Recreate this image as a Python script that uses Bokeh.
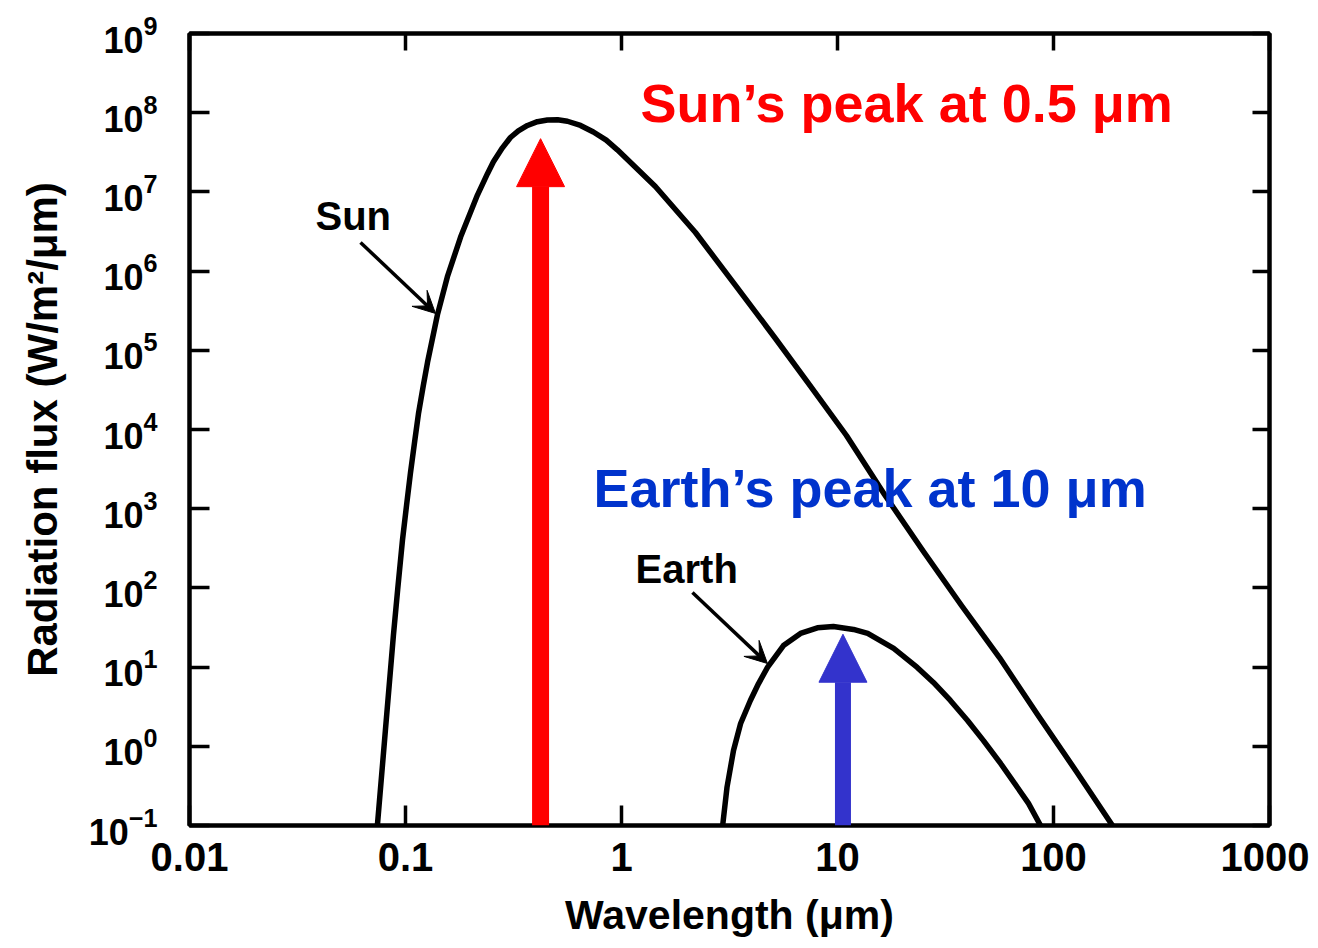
from bokeh.plotting import figure
from bokeh.models import (LogAxis, FixedTicker, CustomJSTickFormatter, LogTickFormatter,
                          Arrow, NormalHead, VeeHead, Label)
from bokeh.embed import file_html
from bokeh.resources import INLINE

# ---------------- data ----------------
sun_wavelength = [0.0741, 0.0807, 0.0879, 0.0920, 0.0968, 0.1012, 0.1054, 0.1104,
                  0.1148, 0.1208, 0.1265, 0.1406, 0.1563, 0.1799, 0.2153, 0.2399,
                  0.2553, 0.281, 0.306, 0.333, 0.367, 0.408, 0.454, 0.506, 0.562,
                  0.646, 0.741, 0.85, 0.957, 1.435, 2.20, 3.37, 5.16, 7.35, 11.0,
                  16.5, 25.0, 37.5, 56.2, 84.3, 127.6, 187.5]
sun_flux = [0.1, 1.58, 25.1, 95.5, 398, 1122, 2818, 7244,
            1.58e4, 3.55e4, 7.08e4, 2.82e5, 8.5e5, 2.69e6, 9.12e6, 1.71e7,
            2.4e7, 3.6e7, 4.86e7, 5.9e7, 6.9e7, 7.7e7, 8.1e7, 8.15e7, 7.8e7,
            6.9e7, 5.7e7, 4.5e7, 3.4e7, 1.17e7, 3.07e6, 6.6e5, 1.41e5, 3.8e4, 8400,
            1510, 288, 60, 13.2, 2.52, 0.481, 0.1]

earth_wavelength = [2.94, 3.08, 3.30, 3.56, 3.95, 4.31, 4.74, 5.62, 6.74, 8.07,
                    9.57, 11.86, 13.8, 18.2, 23.4, 27.8, 33.3, 40.0, 47.4, 56.9,
                    68.1, 76.6, 87.1]
earth_flux = [0.1, 0.305, 0.885, 1.94, 3.79, 6.2, 9.9, 18.7, 26.6, 31.3,
              32.6, 29.9, 26.6, 17.2, 9.9, 6.4, 3.79, 2.12, 1.18, 0.607,
              0.302, 0.19, 0.1]

x_tick_values = [0.01, 0.1, 1, 10, 100, 1000]
x_tick_labels = ["0.01", "0.1", "1", "10", "100", "1000"]
y_tick_values = [0.1, 1, 10, 100, 1e3, 1e4, 1e5, 1e6, 1e7, 1e8, 1e9]

sun_peak_wavelength = 0.422
sun_peak_flux = 4.7e7
earth_peak_wavelength = 10.6
earth_peak_flux = 26.0

FONT = "Liberation Sans"

p = figure(x_axis_type="log", y_axis_type="log",
           x_range=(0.01, 1000), y_range=(0.1, 1e9),
           frame_width=1080, frame_height=792,
           min_border_left=189, min_border_top=33, min_border_right=40, min_border_bottom=90,
           output_backend="svg", toolbar_location=None,
           background_fill_color="white", border_fill_color="white")

p.xgrid.visible = False
p.ygrid.visible = False
p.outline_line_color = "black"
p.outline_line_width = 4

# bottom axis
xa = p.xaxis[0]
xa.ticker = FixedTicker(ticks=x_tick_values, minor_ticks=[])
xa.formatter = CustomJSTickFormatter(
    args=dict(vals=x_tick_values, labels=x_tick_labels),
    code="""
    for (let i = 0; i < vals.length; i++) {
        if (Math.abs(Math.log10(vals[i]) - Math.log10(tick)) < 1e-6) return labels[i];
    }
    return "";
    """)
xa.axis_label = "Wavelength (μm)"

# left axis
ya = p.yaxis[0]
ya.ticker = FixedTicker(ticks=y_tick_values, minor_ticks=[])
ya.formatter = LogTickFormatter()
ya.axis_label = "Radiation flux (W/m²/μm)"

for ax in (xa, ya):
    ax.axis_line_width = 4
    ax.axis_line_color = "black"
    ax.major_tick_in = 20
    ax.major_tick_out = 0
    ax.major_tick_line_width = 3.5
    ax.minor_tick_line_color = None
    ax.major_label_text_font = FONT
    ax.major_label_text_font_style = "bold"
    ax.major_label_text_color = "black"
    ax.axis_label_text_font = FONT
    ax.axis_label_text_font_style = "bold"
    ax.axis_label_text_color = "black"

xa.major_label_text_font_size = "40px"
xa.major_label_standoff = 17
xa.axis_label_text_font_size = "41px"
xa.axis_label_standoff = 18

ya.major_label_text_font_size = "36px"
ya.major_label_standoff = 32
ya.axis_label_text_font_size = "42px"
ya.axis_label_standoff = 20

# top and right axes: inward ticks only
top_axis = LogAxis(ticker=FixedTicker(ticks=x_tick_values, minor_ticks=[]),
                   formatter=CustomJSTickFormatter(code="return '';"))
right_axis = LogAxis(ticker=FixedTicker(ticks=y_tick_values, minor_ticks=[]),
                     formatter=CustomJSTickFormatter(code="return '';"))
for ax in (top_axis, right_axis):
    ax.axis_line_width = 4
    ax.major_tick_in = 17
    ax.major_tick_out = 0
    ax.major_tick_line_width = 3.5
    ax.minor_tick_line_color = None
    ax.major_label_text_font_size = "1px"
p.add_layout(top_axis, "above")
p.add_layout(right_axis, "right")

# curves
p.line(sun_wavelength, sun_flux, line_color="black", line_width=5.5, line_join="round")
p.line(earth_wavelength, earth_flux, line_color="black", line_width=5.5, line_join="round")

# peak arrows
p.add_layout(Arrow(x_start=sun_peak_wavelength, y_start=0.1,
                   x_end=sun_peak_wavelength, y_end=sun_peak_flux,
                   line_color="#ff0000", line_width=17,
                   end=NormalHead(size=48, fill_color="#ff0000", line_color="#ff0000", line_width=1)))
p.add_layout(Arrow(x_start=earth_peak_wavelength, y_start=0.1,
                   x_end=earth_peak_wavelength, y_end=earth_peak_flux,
                   line_color="#3333cc", line_width=16,
                   end=NormalHead(size=48, fill_color="#3333cc", line_color="#3333cc", line_width=1)))

# curve labels with pointer arrows
p.add_layout(Label(x=0.0383, y=4.9e6, text="Sun", text_font=FONT, text_font_size="40px",
                   text_font_style="bold", text_color="black",
                   text_align="left", text_baseline="alphabetic"))
p.add_layout(Arrow(x_start=0.0619, y_start=2.3e6, x_end=0.1377, y_end=2.92e5,
                   line_color="black", line_width=3.5,
                   end=VeeHead(size=22, fill_color="black", line_color="black")))
p.add_layout(Label(x=1.162, y=175, text="Earth", text_font=FONT, text_font_size="40px",
                   text_font_style="bold", text_color="black",
                   text_align="left", text_baseline="alphabetic"))
p.add_layout(Arrow(x_start=2.13, y_start=87.5, x_end=4.74, y_end=11.1,
                   line_color="black", line_width=3.5,
                   end=VeeHead(size=22, fill_color="black", line_color="black")))

# coloured annotations
p.add_layout(Label(x=1.225, y=1.31e8, text="Sun’s peak at 0.5 μm", text_font=FONT,
                   text_font_size="54px", text_font_style="bold", text_color="#ff0000",
                   text_align="left", text_baseline="alphabetic"))
p.add_layout(Label(x=0.741, y=1800, text="Earth’s peak at 10 μm", text_font=FONT,
                   text_font_size="54px", text_font_style="bold", text_color="#0033cc",
                   text_align="left", text_baseline="alphabetic"))

open("out.html", "w").write(file_html(p, INLINE))
